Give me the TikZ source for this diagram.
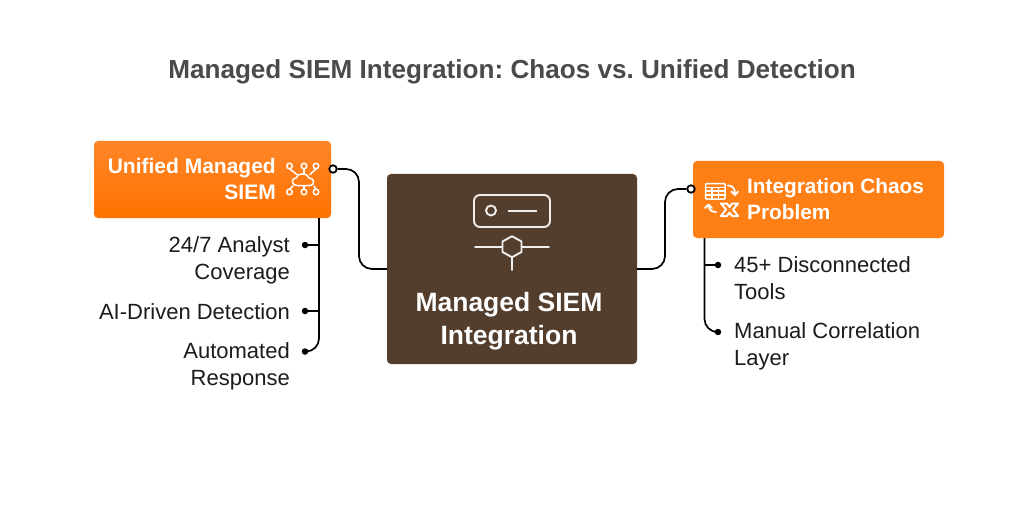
\documentclass[tikz,border=0pt]{standalone}
\usepackage{fontspec}
\setmainfont{Liberation Sans}
\usepackage{amsmath}
\usetikzlibrary{shapes,shapes.geometric}
\definecolor{chaosorange}{HTML}{FF7F17}
\definecolor{unitop}{HTML}{FF8628}
\definecolor{unibottom}{HTML}{FF7200}
\definecolor{siembrown}{HTML}{533E2D}
\definecolor{titlegray}{HTML}{4A4A4A}
\definecolor{itemblack}{HTML}{1C1C1C}
\tikzset{
	listtext/.style={inner sep=0pt,text=itemblack,font=\fontsize{22}{27}\selectfont},
	headtext/.style={inner sep=0pt,text=white,font=\fontsize{21}{26.5}\selectfont\bfseries},
	orangebox/.style={rectangle,rounded corners=4pt,inner sep=0pt},
	conn/.style={line width=1.7pt,black,rounded corners=13pt},
	enddot/.style={circle,fill=black,inner sep=0pt,minimum size=6.5pt},
	portdot/.style={circle,draw=black,fill=white,line width=1.8pt,inner sep=0pt,minimum size=7.5pt},
	iconline/.style={white,line width=1.5pt,line cap=round,line join=round},
	bigicon/.style={white!92!siembrown,line width=1.9pt,line cap=round,line join=round}
}

\begin{document}
\begin{tikzpicture}[x=1pt,y=-1pt]
	\useasboundingbox (0,0) rectangle (1024,505);
	\fill [white] (0,0) rectangle (1024,505);
	\node (title) at (512,72) [inner sep=0pt,text=titlegray,font=\frenchspacing\fontsize{26.1}{32}\selectfont\bfseries] {Managed SIEM Integration: Chaos vs. Unified Detection};

	% boxes
	\node (unibox) at (212.5,179.5) [orangebox,minimum width=237pt,minimum height=77pt,top color=unitop,bottom color=unibottom] {};
	\node (chaosbox) at (818.5,199.5) [orangebox,minimum width=251pt,minimum height=77pt,fill=chaosorange] {};
	\node (siem) at (512,269) [orangebox,minimum width=250pt,minimum height=190pt,fill=siembrown] {};

	% box texts
	\node (unitext) at (276,179) [headtext,anchor=east,align=right] {Unified Managed\\SIEM};
	\node (chaostext) at (747,199) [headtext,anchor=west,align=left,font=\fontsize{20.8}{26.5}\selectfont\bfseries] {Integration Chaos\\Problem};
	\node (siemtext) at (509,321) [inner sep=0pt,text=white,font=\fontsize{26.5}{33}\selectfont\bfseries,align=center] {Managed SIEM\\Integration};

	% list texts
	\node (cover) at (290,260) [listtext,anchor=east,align=right] {24/7 Analyst\\Coverage};
	\node (aidet) at (290,311.5) [listtext,anchor=east,align=right] {AI-Driven Detection};
	\node (autoresp) at (290,366) [listtext,anchor=east,align=right] {Automated\\Response};
	\node (tools) at (734,278.5) [listtext,anchor=west,align=left] {45+ Disconnected\\Tools};
	\node (manual) at (734,346.5) [listtext,anchor=west,align=left] {Manual Correlation\\Layer};

	% ports and dots
	\node (uniport) at (333,169) [portdot] {};
	\node (chaosport) at (691,189) [portdot] {};
	\node (coverdot) at (305,245) [enddot] {};
	\node (aidot) at (305,311) [enddot] {};
	\node (autodot) at (305,351.5) [enddot] {};
	\node (toolsdot) at (718,265) [enddot] {};
	\node (manualdot) at (718,332) [enddot] {};

	\coordinate (leftbend) at (359,220);
	\coordinate (rightbend) at (665,230);
	\coordinate (unifoot) at (319,218);
	\coordinate (covertee) at (319,245);
	\coordinate (aitee) at (319,311);
	\coordinate (unicorner) at (319,351.5);
	\coordinate (chaosfoot) at (704.5,238);
	\coordinate (toolstee) at (704.5,265);
	\coordinate (chaoscorner) at (704.5,332);

	% connectors
	\draw [conn] (uniport) -| (leftbend) |- (siem.west);
	\draw [conn] (siem.east) -| (rightbend) |- (chaosport);
	\draw [conn] (unifoot) -- (unicorner) -- (autodot);
	\draw [conn] (covertee) -- (coverdot);
	\draw [conn] (aitee) -- (aidot);
	\draw [conn] (chaosfoot) -- (chaoscorner) -- (manualdot);
	\draw [conn] (toolstee) -- (toolsdot);

	% cloud icon
	\foreach \x/\tx/\bx in {289.5/297/293,304/304/304,316/310/314} {
		\draw [iconline] (\x,166) circle (2.8);
		\draw [iconline] (\x,192) circle (2.8);
		\draw [iconline] (\tx,174.5) -- (\x,168.8);
		\draw [iconline] (\bx,186) -- (\x,189.2);
	}
	\draw [iconline,fill=unibottom!50!unitop] (297,185.5) .. controls (291,185.5) and (291,178) .. (296,178) .. controls (297,172.5) and (308,172.5) .. (309,178) .. controls (315,178) and (315,185.5) .. (310,185.5) -- cycle;

	% table and cross icon
	\draw [iconline,rounded corners=1pt] (705.5,183.5) rectangle (725,199);
	\foreach \y in {187.5,191,195} {
		\draw [iconline] (705.5,\y) -- (725,\y);
	}
	\foreach \x in {712,718.5} {
		\draw [iconline] (\x,187.5) -- (\x,199);
	}
	\draw [iconline,line width=1.8pt] (728,185.5) .. controls (733,185.5) and (735,189) .. (735,194);
	\draw [iconline,line width=1.8pt] (731.5,191.5) -- (735,195) -- (738,191.5);
	\draw [iconline,line width=1.8pt] (716,212) .. controls (711,212) and (708.5,209) .. (708.5,205.5);
	\draw [iconline,line width=1.8pt] (705,208) -- (708.5,204.5) -- (712,208);
	\draw [iconline,line width=2pt] (721,203.5) -- (727,203.5) -- (729.5,207) -- (732,203.5) -- (738,203.5) -- (733,209.5) -- (738,216) -- (732,216) -- (729.5,212.5) -- (727,216) -- (721,216) -- (726,209.5) -- cycle;

	% server and hexagon icon
	\draw [bigicon,rounded corners=6pt] (474,195) rectangle (550,227);
	\draw [bigicon] (491,210.5) circle (5);
	\draw [bigicon] (508.5,210.7) -- (536.5,210.7);
	\draw [bigicon] (512,236.2) -- (521.5,241.5) -- (521.5,252) -- (512,257.2) -- (502.5,252) -- (502.5,241.5) -- cycle;
	\draw [bigicon] (475,246.7) -- (502.5,246.7);
	\draw [bigicon] (521.5,246.7) -- (549,246.7);
	\draw [bigicon] (512,257.2) -- (512,270);
\end{tikzpicture}
\end{document}
